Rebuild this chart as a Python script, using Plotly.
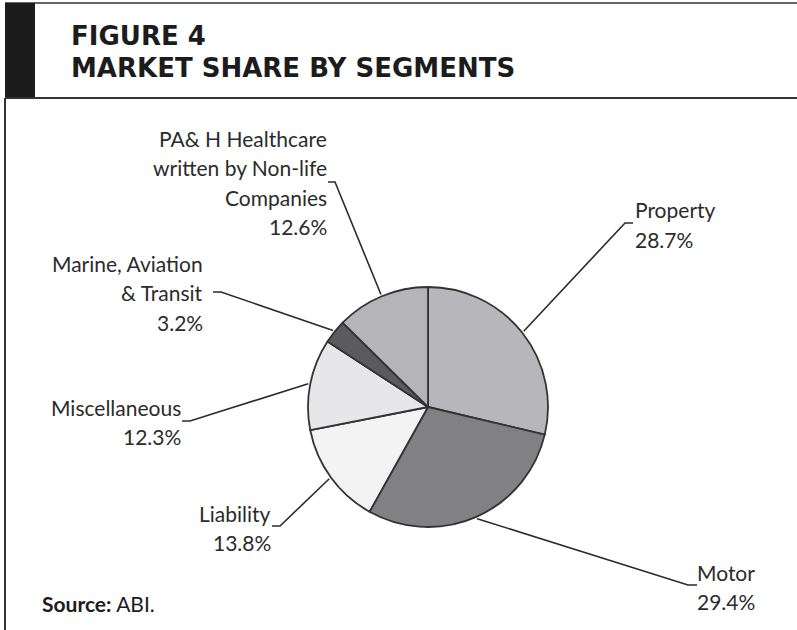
import math

import plotly.graph_objects as go

segments = [
    "Property",
    "Motor",
    "Liability",
    "Miscellaneous",
    "Marine, Aviation & Transit",
    "PA& H Healthcare written by Non-life Companies",
]
shares = [28.7, 29.4, 13.8, 12.3, 3.2, 12.6]
label_lines = [
    ["Property"],
    ["Motor"],
    ["Liability"],
    ["Miscellaneous"],
    ["Marine, Aviation", "& Transit"],
    ["PA& H Healthcare", "written by Non-life", "Companies"],
]
colors = ["#b7b7bb", "#818184", "#f3f3f4", "#e7e7e9", "#5b5b5d", "#b5b5b9"]

W, H = 797, 630
CX, CY, R = 428, 407, 120

# label placement (pixels): text anchor x, first line y, side, elbow, line end
label_pos = [
    dict(x=633, y=210, side="left", elbow=(625, 223), end=(633, 223)),
    dict(x=695, y=572, side="left", elbow=(688, 585), end=(697, 585)),
    dict(x=273, y=513, side="right", elbow=(280, 526), end=(272, 526)),
    dict(x=183, y=407, side="right", elbow=(190, 421), end=(182, 421)),
    dict(x=205, y=263, side="right", elbow=(221, 292), end=(213, 292)),
    dict(x=329, y=138, side="right", elbow=(335, 182), end=(328, 182)),
]
LINE_H = 29.5

FONT = "Lato, 'Open Sans', sans-serif"
TITLE_FONT = "'DejaVu Sans', sans-serif"
INK = "#2b2b2b"


def px(x, y):
    return x / W, 1 - y / H


fig = go.Figure()

fig.add_trace(
    go.Pie(
        labels=segments,
        values=shares,
        sort=False,
        direction="clockwise",
        rotation=0,
        textinfo="none",
        hoverinfo="label+percent",
        marker=dict(colors=colors, line=dict(color="#333333", width=1.8)),
        domain=dict(
            x=[(CX - R) / W, (CX + R) / W],
            y=[1 - (CY + R) / H, 1 - (CY - R) / H],
        ),
        showlegend=False,
    )
)

# leader lines + labels
total = sum(shares)
cum = 0.0
for seg_lines, share, pos in zip(label_lines, shares, label_pos):
    mid = (cum + share / 2) / total * 2 * math.pi
    cum += share
    sx = CX + (R + 2) * math.sin(mid)
    sy = CY - (R + 2) * math.cos(mid)
    pts = [(sx, sy), pos["elbow"], pos["end"]]
    path = "M " + " L ".join(f"{px(a, b)[0]:.5f},{px(a, b)[1]:.5f}" for a, b in pts)
    fig.add_shape(
        type="path",
        path=path,
        xref="paper",
        yref="paper",
        line=dict(color=INK, width=1.6),
    )
    lines = seg_lines + [f"{share}%"]
    for i, txt in enumerate(lines):
        ax, ay = px(pos["x"], pos["y"] + i * LINE_H)
        fig.add_annotation(
            x=ax,
            y=ay,
            xref="paper",
            yref="paper",
            text=txt,
            showarrow=False,
            xanchor=pos["side"],
            yanchor="middle",
            font=dict(family=FONT, size=21, color=INK),
        )

# header frame
fig.add_shape(type="line", xref="paper", yref="paper",
              x0=px(5, 0)[0], x1=1, y0=px(0, 3)[1], y1=px(0, 3)[1],
              line=dict(color="#666666", width=2))
fig.add_shape(type="rect", xref="paper", yref="paper",
              x0=px(5, 0)[0], x1=px(35, 0)[0], y0=px(0, 98)[1], y1=px(0, 3)[1],
              fillcolor="#1c1c1c", line=dict(width=0))
fig.add_shape(type="line", xref="paper", yref="paper",
              x0=px(5, 0)[0], x1=1, y0=px(0, 98)[1], y1=px(0, 98)[1],
              line=dict(color="#333333", width=2))
fig.add_shape(type="line", xref="paper", yref="paper",
              x0=px(5, 0)[0], x1=px(5, 0)[0], y0=0, y1=px(0, 98)[1],
              line=dict(color="#333333", width=2))

for txt, y in [("FIGURE 4", 36), ("MARKET SHARE BY SEGMENTS", 68)]:
    ax, ay = px(69, y)
    fig.add_annotation(
        x=ax, y=ay, xref="paper", yref="paper",
        text=f"<b>{txt}</b>", showarrow=False,
        xanchor="left", yanchor="middle",
        font=dict(family=TITLE_FONT, size=26, color="#1c1c1c"),
    )

ax, ay = px(40, 603)
fig.add_annotation(
    x=ax, y=ay, xref="paper", yref="paper",
    text="<b>Source:</b> ABI.", showarrow=False,
    xanchor="left", yanchor="middle",
    font=dict(family=FONT, size=21, color="#1c1c1c"),
)

fig.update_layout(
    width=W,
    height=H,
    margin=dict(l=0, r=0, t=0, b=0),
    paper_bgcolor="white",
    plot_bgcolor="white",
)

fig.write_html(
    "out.html",
    config={"displayModeBar": False},
    post_script="document.body.style.margin='0';document.body.style.overflow='hidden';",
)
